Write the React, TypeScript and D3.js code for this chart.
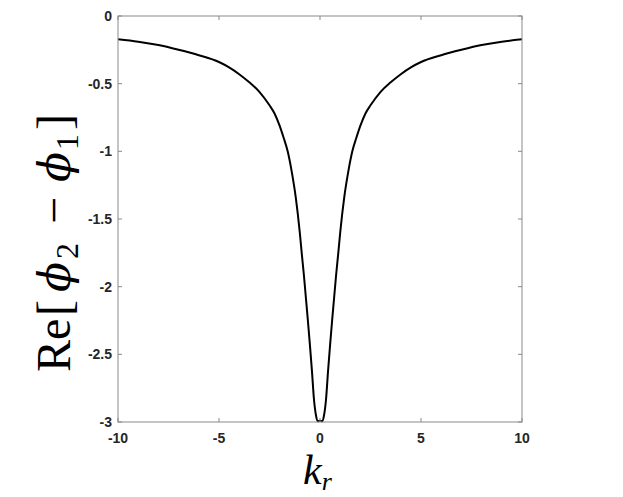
import React from "react";
import * as d3 from "d3";

const kValues = [
  -10, -9, -8, -7, -6, -5, -4.5, -4, -3.5, -3, -2.5, -2.25, -2, -1.8, -1.6, -1.4, -1.2, -1, -0.9, -0.8, -0.7, -0.6, -0.5, -0.4, -0.3, -0.2, -0.1,
  0,
  0.1, 0.2, 0.3, 0.4, 0.5, 0.6, 0.7, 0.8, 0.9, 1, 1.2, 1.4, 1.6, 1.8, 2, 2.25, 2.5, 3, 3.5, 4, 4.5, 5, 6, 7, 8, 9, 10,
];
const reValues = [
  -0.172, -0.19, -0.215, -0.25, -0.29, -0.34, -0.38, -0.43, -0.49, -0.56, -0.66, -0.72, -0.81, -0.9, -1.0, -1.15, -1.34, -1.6, -1.76, -1.91, -2.08, -2.25, -2.43, -2.62, -2.83, -2.95, -2.995,
  -2.99,
  -2.995, -2.95, -2.83, -2.62, -2.43, -2.25, -2.08, -1.91, -1.76, -1.6, -1.34, -1.15, -1.0, -0.9, -0.81, -0.72, -0.66, -0.56, -0.49, -0.43, -0.38, -0.34, -0.29, -0.25, -0.215, -0.19, -0.172,
];
const xTicks = [-10, -5, 0, 5, 10];
const yTicks = [0, -0.5, -1, -1.5, -2, -2.5, -3];

const W = 623;
const H = 497;
const left = 118;
const right = 522;
const top = 16;
const bottom = 422;

export default function App() {
  const x = d3.scaleLinear().domain([-10, 10]).range([left, right]);
  const y = d3.scaleLinear().domain([-3, 0]).range([bottom, top]);
  const pts = kValues.map((k, i) => [k, reValues[i]] as [number, number]);
  const line = d3
    .line<[number, number]>()
    .x((d) => x(d[0]))
    .y((d) => y(d[1]))
    .curve(d3.curveMonotoneX);
  const axisColor = "#8a8a8a";
  const textColor = "#262626";
  const tickLen = 4;
  const fmt = (v: number) => (v === 0 ? "0" : String(v));
  const phiFont = "DejaVu Serif, Liberation Serif, serif";
  return (
    <svg
      width={W}
      height={H}
      style={{ position: "absolute", left: 0, top: 0, background: "#fff" }}
    >
      <rect x={0} y={0} width={W} height={H} fill="#fff" />
      <defs>
        <clipPath id="plotClip">
          <rect x={left} y={top - 2} width={right - left} height={bottom - top + 4} />
        </clipPath>
      </defs>
      <path
        d={line(pts) || ""}
        fill="none"
        stroke="#000"
        strokeWidth={2}
        clipPath="url(#plotClip)"
      />
      <rect
        x={left}
        y={top}
        width={right - left}
        height={bottom - top}
        fill="none"
        stroke={axisColor}
        strokeWidth={1}
      />
      {xTicks.map((t) => (
        <g key={"x" + t}>
          <line x1={x(t)} x2={x(t)} y1={bottom} y2={bottom - tickLen} stroke={axisColor} />
          <line x1={x(t)} x2={x(t)} y1={top} y2={top + tickLen} stroke={axisColor} />
          <text
            x={x(t)}
            y={bottom + 21}
            textAnchor="middle"
            fontFamily="Liberation Sans, Arial, sans-serif"
            fontWeight="bold"
            fontSize={14}
            fill={textColor}
          >
            {fmt(t)}
          </text>
        </g>
      ))}
      {yTicks.map((t) => (
        <g key={"y" + t}>
          <line x1={left} x2={left + tickLen} y1={y(t)} y2={y(t)} stroke={axisColor} />
          <line x1={right} x2={right - tickLen} y1={y(t)} y2={y(t)} stroke={axisColor} />
          <text
            x={left - 6}
            y={y(t) + 5}
            textAnchor="end"
            fontFamily="Liberation Sans, Arial, sans-serif"
            fontWeight="bold"
            fontSize={14}
            fill={textColor}
          >
            {fmt(t)}
          </text>
        </g>
      ))}
      <text
        x={303}
        y={484}
        textAnchor="start"
        fontFamily="Liberation Serif, DejaVu Serif, serif"
        fontStyle="italic"
        fontSize={42}
        fill="#000"
      >
        k
        <tspan fontSize={26} dy={6} dx={0}>
          r
        </tspan>
      </text>
      <g transform="translate(70,372) rotate(-90)">
        <text
          fontFamily="Liberation Serif, DejaVu Serif, serif"
          fontSize={48}
          fill="#000"
        >
          <tspan x={0} y={0}>Re</tspan>
          <tspan x={56} y={0}>[</tspan>
          <tspan x={80} y={0} fontStyle="italic" fontFamily={phiFont} fontSize={44}>ϕ</tspan>
          <tspan x={113} y={8} fontSize={32}>2</tspan>
          <tspan x={148} y={0}>−</tspan>
          <tspan x={190} y={0} fontStyle="italic" fontFamily={phiFont} fontSize={44}>ϕ</tspan>
          <tspan x={222} y={8} fontSize={32}>1</tspan>
          <tspan x={242} y={0}>]</tspan>
        </text>
      </g>
    </svg>
  );
}
